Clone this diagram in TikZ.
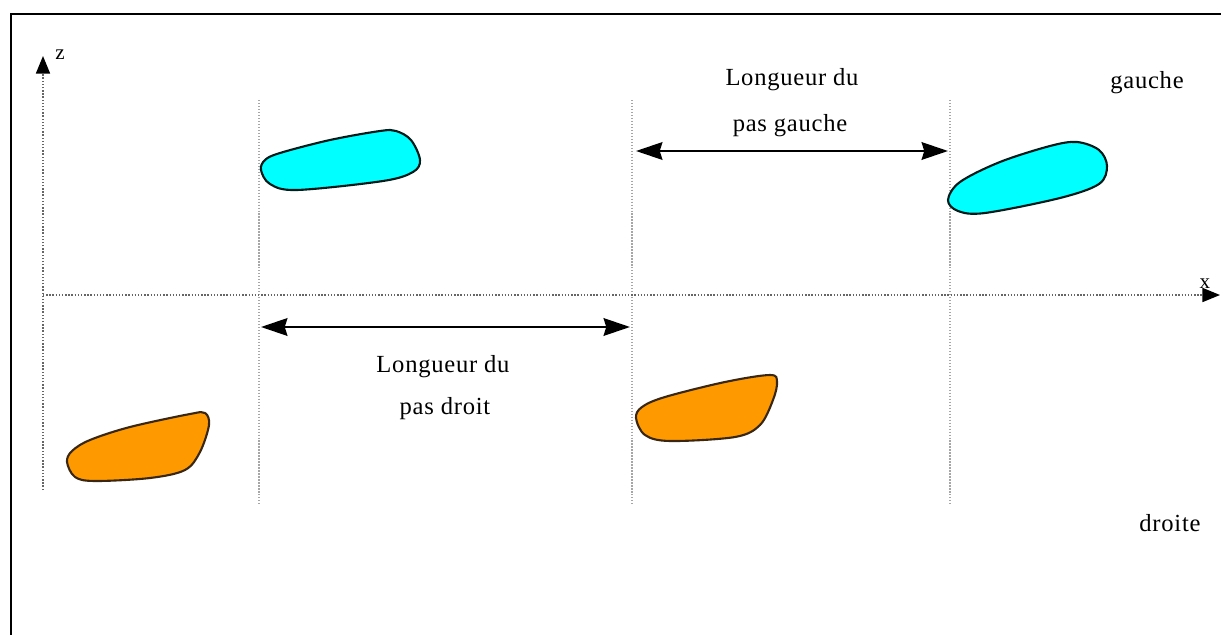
\documentclass[tikz,border=0pt]{standalone}
\usepackage{fontspec}
\setmainfont{Liberation Serif}
\usetikzlibrary{arrows.meta}
\definecolor{footL}{HTML}{00FFFF}
\definecolor{footR}{HTML}{FF9900}
\tikzset{
  guide/.style={draw=gray!70, densely dotted, line width=0.7pt},
  axisline/.style={draw=gray!80!black, densely dotted, line width=0.8pt, -{Triangle[length=10pt,width=8pt,black]}},
  dim/.style={draw=black, line width=1.5pt, {Stealth[length=15pt,width=10pt,inset=1.5pt]}-{Stealth[length=15pt,width=10pt,inset=1.5pt]}},
  leftfoot/.style={fill=footL, draw=black!80!teal, line width=1.2pt},
  rightfoot/.style={fill=footR, draw=black!70!brown, line width=1.2pt},
  lbl/.style={font=\fontsize{14}{16}\selectfont\addfontfeature{LetterSpace=3}, inner sep=0pt},
}
\begin{document}
\begin{tikzpicture}[x=0.02cm,y=-0.02cm]
\useasboundingbox (0,0) rectangle (1221,635);
% frame (cropped)
\draw[line width=1.3pt] (11,635) -- (11,14) -- (1221,14);
% guides
\coordinate (g1t) at (259,100); \coordinate (g1b) at (259,505);
\coordinate (g2t) at (632,100); \coordinate (g2b) at (632,505);
\coordinate (g3t) at (950,100); \coordinate (g3b) at (950,505);
\draw[guide] (g1t) -- (g1b);
\draw[guide] (g2t) -- (g2b);
\draw[guide] (g3t) -- (g3b);
% axes
\coordinate (zb) at (43,490); \coordinate (zt) at (43,56);
\coordinate (xl) at (43,295); \coordinate (xr) at (1220,295);
\draw[axisline] (zb) -- (zt);
\draw[axisline] (xl) -- (xr);
\node[inner sep=0pt, font=\fontsize{12}{13}\selectfont] (zlab) at (60,55) {z};
\node[inner sep=0pt, font=\fontsize{12}{13}\selectfont] (xlab) at (1205,284) {x};
% feet
\draw[leftfoot] plot[smooth cycle, tension=0.55] coordinates {(261,170) (270,184) (297,190) (383,181) (413,172) (420,160) (411,140) (396,131) (380,131) (330,140) (280,153) (265,160)};
\draw[leftfoot] plot[smooth cycle, tension=0.55] coordinates {(948,200) (958,211) (985,213) (1060,198) (1099,184) (1107,166) (1099,150) (1077,142) (1050,146) (1000,162) (960,182)};
\draw[rightfoot] plot[smooth cycle, tension=0.55] coordinates {(67,462) (75,477) (95,481) (150,478) (185,470) (200,452) (209,425) (205,413) (190,414) (130,427) (90,440) (72,451)};
\draw[rightfoot] plot[smooth cycle, tension=0.55] coordinates {(636,418) (645,435) (670,441) (735,437) (760,425) (773,400) (777,382) (770,375) (725,382) (665,397) (642,407)};
% dimension arrows
\coordinate (ga) at (636,151); \coordinate (gb) at (948,151);
\coordinate (da) at (261,327); \coordinate (db) at (630,327);
\draw[dim] (ga) -- (gb);
\draw[dim] (da) -- (db);
% labels
\node[lbl] (t1) at (792,80) {Longueur du};
\node[lbl] (t2) at (790,126) {pas gauche};
\node[lbl] (t3) at (443,367) {Longueur du};
\node[lbl] (t4) at (445,409) {pas droit};
\node[lbl] (t5) at (1147,83) {gauche};
\node[lbl] (t6) at (1170,523) {droite};
\end{tikzpicture}
\end{document}
